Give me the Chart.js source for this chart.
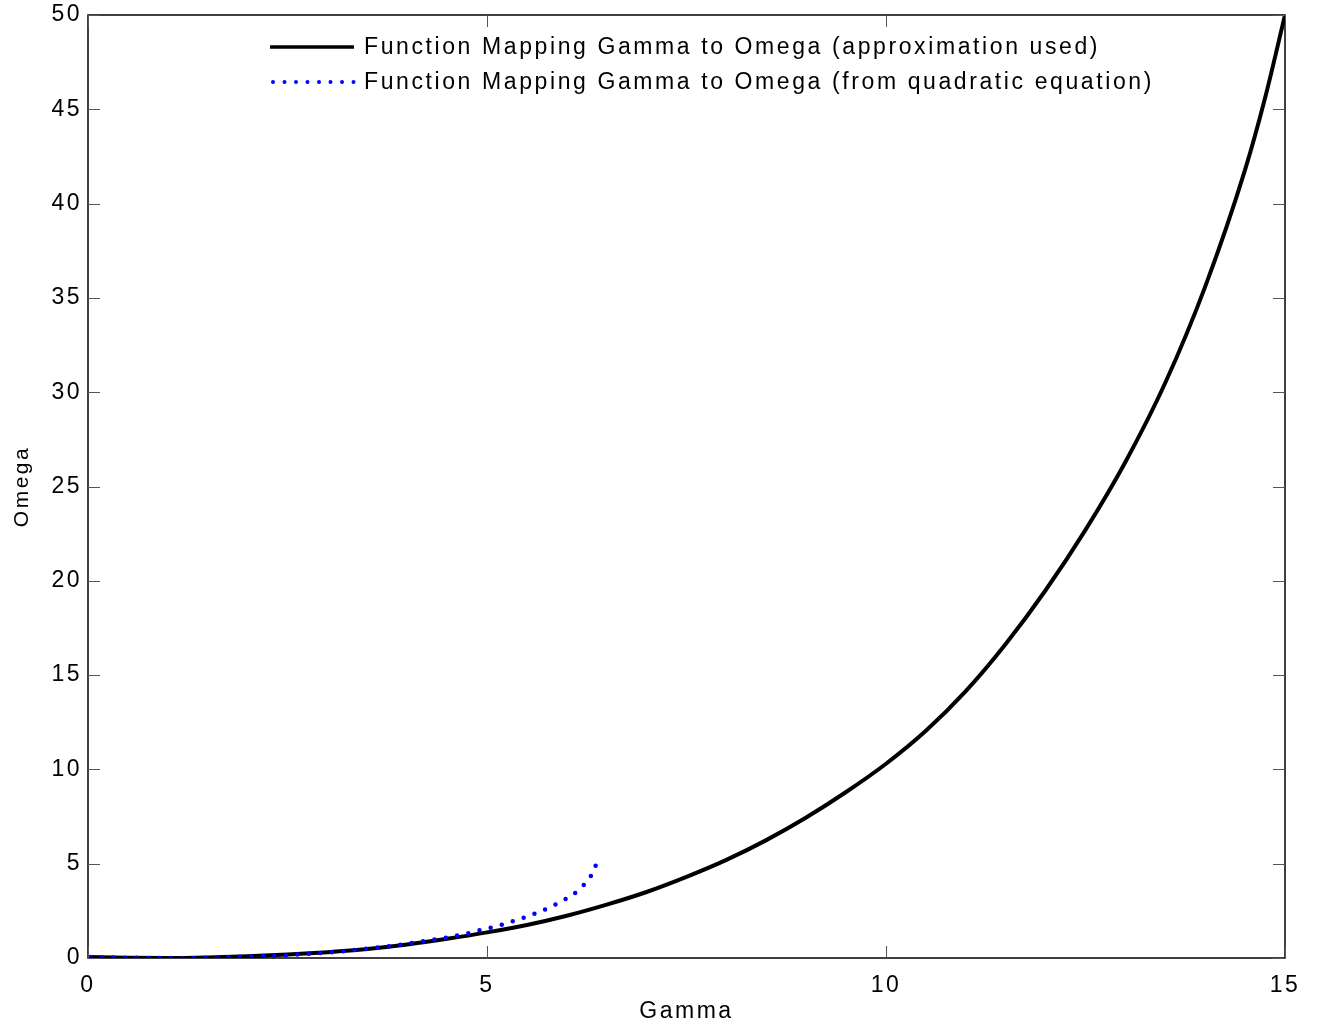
<!DOCTYPE html>
<html>
<head>
<meta charset="utf-8">
<script src="https://cdn.jsdelivr.net/npm/chart.js@4/dist/chart.umd.min.js"></script>
<style>
  html, body { margin: 0; padding: 0; background: #fff; }
  #wrap { width: 1317px; height: 1029px; position: relative; }
</style>
</head>
<body>
<div id="wrap"><canvas id="omegaChart"></canvas></div>
<script>
// approximation used (solid black)
const gammaApprox = [0, 0.5, 1, 1.5, 2, 2.5, 3, 3.5, 4, 4.5, 5, 5.5, 6, 6.5, 7, 7.5, 8, 8.5, 9, 9.5, 10, 10.5, 11, 11.5, 12, 12.5, 13, 13.5, 14, 14.5, 14.75, 15];
const omegaApprox = [0.05, 0.01, 0, 0.03, 0.09, 0.18, 0.31, 0.48, 0.72, 1.02, 1.36, 1.75, 2.24, 2.83, 3.5, 4.3, 5.2, 6.25, 7.45, 8.8, 10.3, 12.05, 14.15, 16.65, 19.5, 22.7, 26.3, 30.5, 35.6, 41.8, 45.6, 50];

// from quadratic equation (dotted blue)
const gammaQuad = [0.03, 0.3, 0.6, 0.9, 1.2, 1.45, 1.60, 1.75, 1.90, 2.05, 2.19, 2.4, 2.58, 2.73, 2.88, 3.03, 3.18, 3.32, 3.43, 3.57, 3.71, 3.86, 4.00, 4.15, 4.29, 4.41, 4.55, 4.70, 4.84, 4.97, 5.12, 5.26, 5.40, 5.54, 5.68, 5.81, 5.94, 6.07, 6.18, 6.28, 6.35, 6.385, 6.39];
const omegaQuad = [0.05, 0.03, 0.01, 0, 0, 0.01, 0.02, 0.04, 0.06, 0.08, 0.11, 0.13, 0.18, 0.21, 0.25, 0.30, 0.35, 0.42, 0.46, 0.53, 0.60, 0.67, 0.76, 0.85, 0.95, 1.02, 1.13, 1.26, 1.39, 1.54, 1.68, 1.86, 2.05, 2.26, 2.49, 2.74, 3.02, 3.34, 3.73, 4.21, 4.75, 5.3, 5.45];

const seriesLabels = [
  'Function Mapping Gamma to Omega (approximation used)',
  'Function Mapping Gamma to Omega (from quadratic equation)',
];

const xTicks = [0, 5, 10, 15];
const yTicks = [0, 5, 10, 15, 20, 25, 30, 35, 40, 45, 50];

const toPoints = (xs, ys) => xs.map((x, i) => ({ x, y: ys[i] }));

const FONT = 'Liberation Sans, Arial, sans-serif';
const SPACING = '2.5px';

// axes box + inward ticks like the original figure
const boxPlugin = {
  id: 'box',
  beforeDraw(chart) {
    chart.ctx.letterSpacing = SPACING;
  },
  afterDatasetsDraw(chart) {
    const { ctx, chartArea: a, scales } = chart;
    ctx.save();
    ctx.strokeStyle = '#000';
    ctx.lineWidth = 1.5;
    ctx.strokeRect(a.left, a.top, a.right - a.left, a.bottom - a.top);
    ctx.strokeStyle = '#555';
    ctx.lineWidth = 1;
    const len = 12;
    ctx.beginPath();
    xTicks.forEach((v) => {
      const px = Math.round(scales.x.getPixelForValue(v)) + 0.5;
      ctx.moveTo(px, a.bottom); ctx.lineTo(px, a.bottom - len);
      ctx.moveTo(px, a.top); ctx.lineTo(px, a.top + len);
    });
    yTicks.forEach((v) => {
      const py = Math.round(scales.y.getPixelForValue(v)) + 0.5;
      ctx.moveTo(a.left, py); ctx.lineTo(a.left + len, py);
      ctx.moveTo(a.right, py); ctx.lineTo(a.right - len, py);
    });
    ctx.stroke();
    ctx.restore();
  },
  afterDraw(chart) {
    // legend inside the axes, top centre
    const { ctx } = chart;
    const ds = chart.data.datasets;
    ctx.save();
    ctx.font = '23px ' + FONT;
    ctx.letterSpacing = '2.6px';
    ctx.fillStyle = '#000';
    ctx.textBaseline = 'middle';
    const rows = [47, 82];
    rows.forEach((y, i) => {
      ctx.beginPath();
      ctx.strokeStyle = ds[i].borderColor;
      ctx.lineWidth = i === 0 ? 3.5 : 4;
      ctx.lineCap = i === 0 ? 'butt' : 'round';
      ctx.setLineDash(i === 0 ? [] : [0, 11.5]);
      ctx.moveTo(i === 0 ? 270 : 273, y);
      ctx.lineTo(354, y);
      ctx.stroke();
      ctx.setLineDash([]);
      ctx.fillText(seriesLabels[i], 364, y + 1);
    });
    ctx.restore();
  },
};

new Chart(document.getElementById('omegaChart'), {
  type: 'line',
  data: {
    datasets: [
      {
        label: seriesLabels[0],
        data: toPoints(gammaApprox, omegaApprox),
        borderColor: '#000',
        borderWidth: 4,
        pointRadius: 0,
        cubicInterpolationMode: 'monotone',
        order: 2,
      },
      {
        label: seriesLabels[1],
        data: toPoints(gammaQuad, omegaQuad),
        borderColor: '#0000ff',
        borderWidth: 4.5,
        borderDash: [0, 11.5],
        borderCapStyle: 'round',
        pointRadius: 0,
        cubicInterpolationMode: 'monotone',
        order: 1,
      },
    ],
  },
  options: {
    responsive: true,
    maintainAspectRatio: false,
    animation: false,
    layout: { padding: { top: 15, right: 32, left: 0, bottom: 0 } },
    plugins: { legend: { display: false }, tooltip: { enabled: false } },
    scales: {
      x: {
        type: 'linear',
        min: 0,
        max: 15,
        afterBuildTicks: (s) => { s.ticks = xTicks.map((v) => ({ value: v })); },
        afterFit: (s) => { s.height = 71; s.paddingLeft = 0; s.paddingRight = 0; },
        grid: { display: false, drawTicks: false },
        border: { display: false },
        ticks: { color: '#000', font: { family: FONT, size: 23 }, padding: 14, maxRotation: 0 },
        title: { display: true, text: 'Gamma', color: '#000', font: { family: FONT, size: 23 }, padding: { top: 2 } },
      },
      y: {
        type: 'linear',
        min: 0,
        max: 50,
        afterBuildTicks: (s) => { s.ticks = yTicks.map((v) => ({ value: v })); },
        afterFit: (s) => { s.width = 88; s.paddingTop = 0; s.paddingBottom = 0; },
        grid: { display: false, drawTicks: false },
        border: { display: false },
        ticks: { color: '#000', font: { family: FONT, size: 23 }, padding: 6 },
        title: { display: true, text: 'Omega', color: '#000', font: { family: FONT, size: 21 }, padding: { top: 10 } },
      },
    },
  },
  plugins: [boxPlugin],
});
</script>
</body>
</html>
